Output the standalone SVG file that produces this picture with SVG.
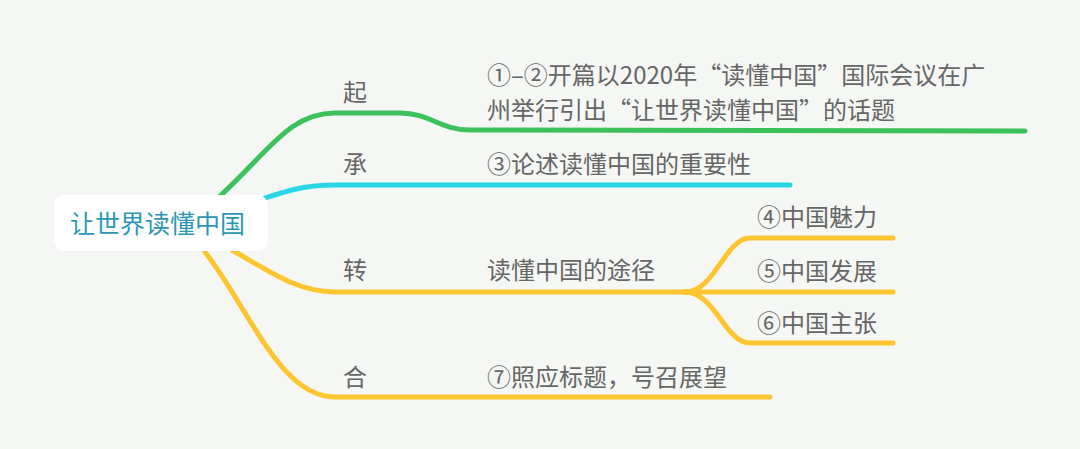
<svg xmlns="http://www.w3.org/2000/svg" width="1080" height="449" viewBox="0 0 1080 449">
<style>
.t{font-family:"Noto Sans CJK SC","Noto Sans",sans-serif;font-size:24px;fill:#666}
.l{fill:none;stroke-width:5;stroke-linecap:round}
.g{stroke:#3cc15c}.c{stroke:#2ad6e6}.y{stroke:#fdc530}
</style>
<rect width="1080" height="449" fill="#f5f7f4"/>
<g id="connectors">
<path class="l g" d="M220,196 C270,150 290,113 335,113 L400,113 C430,113 440,130 470,130 L1025,131"/>
<path class="l c" d="M262,199 C290,190 305,185 335,185 L790,185"/>
<path class="l y" d="M232,250 C275,275 300,292 335,292 L690,292"/>
<path class="l y" d="M205,252 C250,310 280,397 335,397 L770,397"/>
<path class="l y" d="M685,292 C715,292 725,238 750,238 L893,238"/>
<path class="l y" d="M685,292 L893,292"/>
<path class="l y" d="M685,292 C715,292 725,343 750,343 L893,343"/>
</g>
<g id="root">
<rect x="54" y="195" width="214" height="56" rx="10" fill="#fff"/>
<text x="70" y="233" style="font-family:'Noto Sans CJK SC',sans-serif;font-size:25px;fill:#2a98b4">让世界读懂中国</text>
</g>
<g id="qi"><text class="t" x="343" y="101">起</text></g>
<g id="qi-d"><text class="t" x="487" y="84">①–②开篇以2020年“读懂中国”国际会议在广</text><text class="t" x="487" y="119">州举行引出“让世界读懂中国”的话题</text></g>
<g id="cheng"><text class="t" x="343" y="173">承</text></g>
<g id="cheng-d"><text class="t" x="487" y="173">③论述读懂中国的重要性</text></g>
<g id="zhuan"><text class="t" x="343" y="279">转</text></g>
<g id="zhuan-d"><text class="t" x="487" y="279">读懂中国的途径</text></g>
<g id="n4"><text class="t" x="757" y="226">④中国魅力</text></g>
<g id="n5"><text class="t" x="757" y="280">⑤中国发展</text></g>
<g id="n6"><text class="t" x="757" y="332">⑥中国主张</text></g>
<g id="he"><text class="t" x="343" y="386">合</text></g>
<g id="he-d"><text class="t" x="487" y="386">⑦照应标题，号召展望</text></g>
</svg>
